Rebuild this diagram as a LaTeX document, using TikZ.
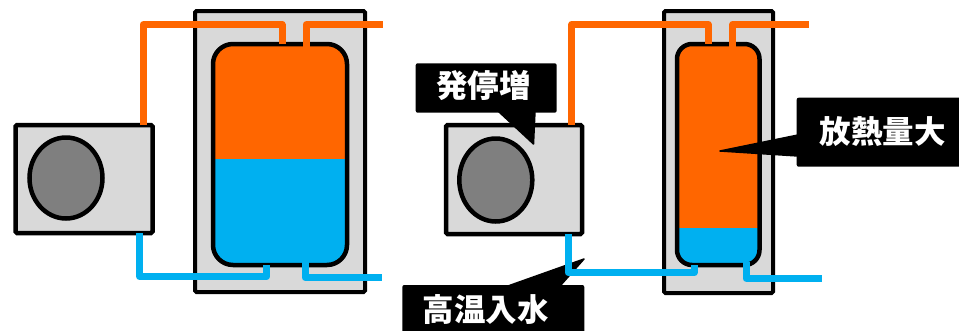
\documentclass[tikz,border=0pt]{standalone}
\usepackage{fontspec}
\newfontfamily\jp{Noto Sans CJK JP}
\usetikzlibrary{shapes.geometric}
\definecolor{hotc}{HTML}{FF6600}
\definecolor{coldc}{HTML}{00B0F0}
\definecolor{casing}{HTML}{D9D9D9}
\definecolor{fanc}{HTML}{7F7F7F}
\begin{document}
\begin{tikzpicture}[x=1pt,y=-1pt,
  unitbox/.style={draw=black, line width=4.5pt, fill=casing, rounded corners=1.5pt, inner sep=0, outer sep=0},
  fan/.style={ellipse, draw=black, line width=4.5pt, fill=fanc, inner sep=0, outer sep=0},
  housing/.style={draw=black, line width=4pt, fill=casing, rounded corners=1.5pt, inner sep=0, outer sep=0},
  tank/.style={fill=hotc, inner sep=0, outer sep=0},
  tankwall/.style={draw=black, line width=4.5pt},
  hotpipe/.style={draw=hotc, line width=7pt, line join=round},
  coldpipe/.style={draw=coldc, line width=7pt, line join=round},
  tagbox/.style={fill=black, rounded corners=2pt, inner sep=0, outer sep=0},
  tagtail/.style={fill=black, draw=black, line width=1.5pt, line join=round},
  tagtext/.style={text=white, inner sep=0, font=\jp\bfseries\fontsize{31.5}{31.5}\selectfont},
]
\useasboundingbox (0,0) rectangle (959,330);

% ---------- left system: normal operation ----------
\node[housing, minimum width=170, minimum height=281] (houseA) at (280,151.5) {};
\node[tank, rounded corners=20, minimum width=134, minimum height=221] (tankA) at (280,154.5) {};
\begin{scope}
  \clip[rounded corners=20] (tankA.north west) rectangle (tankA.south east);
  \fill[coldc] (tankA.west |- 0,159) rectangle (tankA.south east);
\end{scope}
\draw[tankwall, rounded corners=20] (tankA.north west) rectangle (tankA.south east);
\node[unitbox, minimum width=137, minimum height=108] (unitA) at (84,179) {};
\node[fan, minimum width=73, minimum height=81] (fanA) at (66,178) {};

\draw[hotpipe] (unitA.north -| 143,0) |- (282,24.7) -- (tankA.north -| 282,0) ++(0,3);
\draw[hotpipe] (tankA.north -| 306,0) ++(0,3) |- (383.3,24.7);
\draw[coldpipe] (unitA.south -| 139.7,0) |- (266.7,276.7) -- (tankA.south -| 266.7,0) ++(0,-3);
\draw[coldpipe] (tankA.south -| 305,0) ++(0,-3) |- (382.3,277.5);

% ---------- right system ----------
\node[housing, minimum width=109, minimum height=282] (houseB) at (718.5,152) {};
\node[tank, rounded corners=15, minimum width=82.5, minimum height=221] (tankB) at (718.25,154.5) {};
\begin{scope}
  \clip[rounded corners=15] (tankB.north west) rectangle (tankB.south east);
  \fill[coldc] (tankB.west |- 0,228.3) rectangle (tankB.south east);
\end{scope}
\draw[tankwall, rounded corners=15] (tankB.north west) rectangle (tankB.south east);
\node[unitbox, minimum width=136, minimum height=109] (unitB) at (514,179.5) {};
\node[fan, minimum width=73, minimum height=83] (fanB) at (495.8,180) {};

\draw[hotpipe] (unitB.north -| 571.7,0) |- (708.3,24.5) -- (tankB.north -| 708.3,0) ++(0,3);
\draw[hotpipe] (tankB.north -| 732.7,0) ++(0,3) |- (809.3,24.5);

% callout: water entering hot
\node[tagbox, minimum width=182, minimum height=60, anchor=north west] (tagIn) at (402.3,285) {};
\fill[tagtail] (508,286) -- (584,259) -- (560,286) -- cycle;
\node[tagtext] (txtIn) at (485.8,309.5) {高温入水};

\draw[coldpipe] (unitB.south -| 568.3,0) |- (694,272.7) -- (tankB.south -| 694,0) ++(0,-3);
\draw[coldpipe] (tankB.south -| 746,0) ++(0,-3) |- (821.7,278.3);

% callout: start/stop increase
\node[tagbox, minimum width=141, minimum height=49.4, anchor=north west] (tagStart) at (415.7,63.3) {};
\fill[tagtail] (498,111) -- (535,111) -- (533.5,144) -- cycle;
\node[tagtext] (txtStart) at (483.5,85.5) {発停増};

% callout: large heat loss
\node[tagbox, minimum width=180, minimum height=69, anchor=north west] (tagLoss) at (796.7,97.7) {};
\fill[tagtail] (798,135) -- (720,151) -- (798,156) -- cycle;
\node[tagtext] (txtLoss) at (882.5,132) {放熱量大};
\end{tikzpicture}
\end{document}
